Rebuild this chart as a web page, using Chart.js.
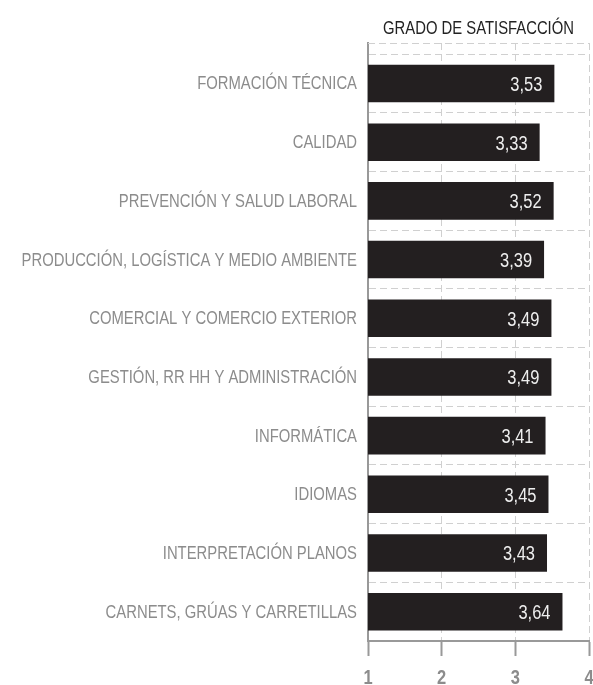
<!DOCTYPE html>
<html>
<head>
<meta charset="utf-8">
<script src="https://cdn.jsdelivr.net/npm/chart.js@4/dist/chart.umd.min.js"></script>
<style>
  html, body { margin: 0; padding: 0; background: #fff; }
  #wrap { width: 593px; height: 685px; }
</style>
</head>
<body>
<div id="wrap"><canvas id="c" width="593" height="685"></canvas></div>
<script>
// datos
const categorias = [
  'FORMACIÓN TÉCNICA',
  'CALIDAD',
  'PREVENCIÓN Y SALUD LABORAL',
  'PRODUCCIÓN, LOGÍSTICA Y MEDIO AMBIENTE',
  'COMERCIAL Y COMERCIO EXTERIOR',
  'GESTIÓN, RR HH Y ADMINISTRACIÓN',
  'INFORMÁTICA',
  'IDIOMAS',
  'INTERPRETACIÓN PLANOS',
  'CARNETS, GRÚAS Y CARRETILLAS'
];
const satisfaccion = [3.53, 3.33, 3.52, 3.39, 3.49, 3.49, 3.41, 3.45, 3.43, 3.64];
const ticksX = [1, 2, 3, 4];
const titulo = 'GRADO DE SATISFACCIÓN';

const FUENTE = "'Liberation Sans', Arial, sans-serif";
const ESTRECHO = 0.824; // no hay fuente condensada instalada: se estrecha a mano
const HUECO_SUP = 0.19; // hueco extra (en filas) sobre la primera categoría

// texto estrecho: escala horizontal alrededor del punto de anclaje
function textoEstrecho(ctx, txt, x, y, align) {
  ctx.save();
  ctx.translate(x, y);
  ctx.scale(ESTRECHO, 1);
  ctx.textAlign = align;
  ctx.fillText(txt, 0, 0);
  ctx.restore();
}

const textosPlugin = {
  id: 'textosPlugin',
  beforeDatasetsDraw(chart) {
    // línea discontinua superior del marco
    const { ctx, chartArea } = chart;
    ctx.save();
    ctx.strokeStyle = '#d0d0d0';
    ctx.lineWidth = 1;
    ctx.setLineDash([7, 4]);
    ctx.beginPath();
    ctx.moveTo(chartArea.left, chartArea.top + 0.5);
    ctx.lineTo(chartArea.right, chartArea.top + 0.5);
    ctx.stroke();
    ctx.restore();
  },
  afterDraw(chart) {
    const { ctx, chartArea, scales } = chart;
    ctx.save();

    // título
    ctx.font = '18px ' + FUENTE;
    ctx.fillStyle = '#222';
    ctx.textBaseline = 'alphabetic';
    textoEstrecho(ctx, titulo, (chartArea.left + chartArea.right) / 2, 34, 'center');

    // etiquetas de categoría
    ctx.font = '18px ' + FUENTE;
    ctx.fillStyle = '#8c8c8c';
    ctx.textBaseline = 'middle';
    categorias.forEach((c, i) => {
      textoEstrecho(ctx, c, chartArea.left - 11, scales.y.getPixelForValue(i) + 1, 'right');
    });

    // etiquetas del eje x
    ctx.font = 'bold 20px ' + FUENTE;
    ctx.fillStyle = '#8c8c8c';
    ctx.textBaseline = 'alphabetic';
    ticksX.forEach(v => {
      textoEstrecho(ctx, String(v), scales.x.getPixelForValue(v), 684, 'center');
    });
    ctx.restore();
  }
};

// valores dentro de la barra, alineados a la derecha
const valoresPlugin = {
  id: 'valoresPlugin',
  afterDatasetsDraw(chart) {
    const { ctx } = chart;
    const meta = chart.getDatasetMeta(0);
    ctx.save();
    ctx.font = '20px ' + FUENTE;
    ctx.fillStyle = '#eeeeee';
    ctx.textBaseline = 'middle';
    meta.data.forEach((bar, i) => {
      const txt = satisfaccion[i].toFixed(2).replace('.', ',');
      textoEstrecho(ctx, txt, bar.x - 12, bar.y + 2, 'right');
    });
    ctx.restore();
  }
};

new Chart(document.getElementById('c'), {
  type: 'bar',
  data: {
    labels: categorias,
    datasets: [{
      data: satisfaccion,
      backgroundColor: '#231f20',
      borderWidth: 0,
      barPercentage: 0.64,
      categoryPercentage: 1
    }]
  },
  plugins: [valoresPlugin, textosPlugin],
  options: {
    indexAxis: 'y',
    responsive: false,
    animation: false,
    layout: { padding: { top: 43, right: 4, bottom: 0, left: 0 } },
    scales: {
      x: {
        min: 1,
        max: 4,
        afterBuildTicks(scale) { scale.ticks = ticksX.map(v => ({ value: v })); },
        afterFit(scale) { scale.height = 44; },
        grid: {
          color: '#d0d0d0',
          lineWidth: 1,
          drawTicks: true,
          tickLength: 15,
          tickColor: '#999',
          tickWidth: 2,
          tickBorderDash: []
        },
        border: { display: true, color: '#999', width: 2, dash: [7, 4] },
        ticks: { display: false }
      },
      y: {
        afterFit(scale) { scale.width = 368; },
        afterBuildTicks(scale) {
          // deja un hueco extra encima de la primera fila
          scale._startValue -= HUECO_SUP;
          scale._valueRange += HUECO_SUP;
        },
        grid: {
          offset: true,
          color: '#d0d0d0',
          lineWidth: 1,
          drawTicks: false
        },
        border: { display: true, color: '#999', width: 2, dash: [7, 4] },
        ticks: { display: false }
      }
    },
    plugins: {
      legend: { display: false },
      title: { display: false },
      tooltip: { enabled: false }
    }
  }
});
</script>
</body>
</html>
